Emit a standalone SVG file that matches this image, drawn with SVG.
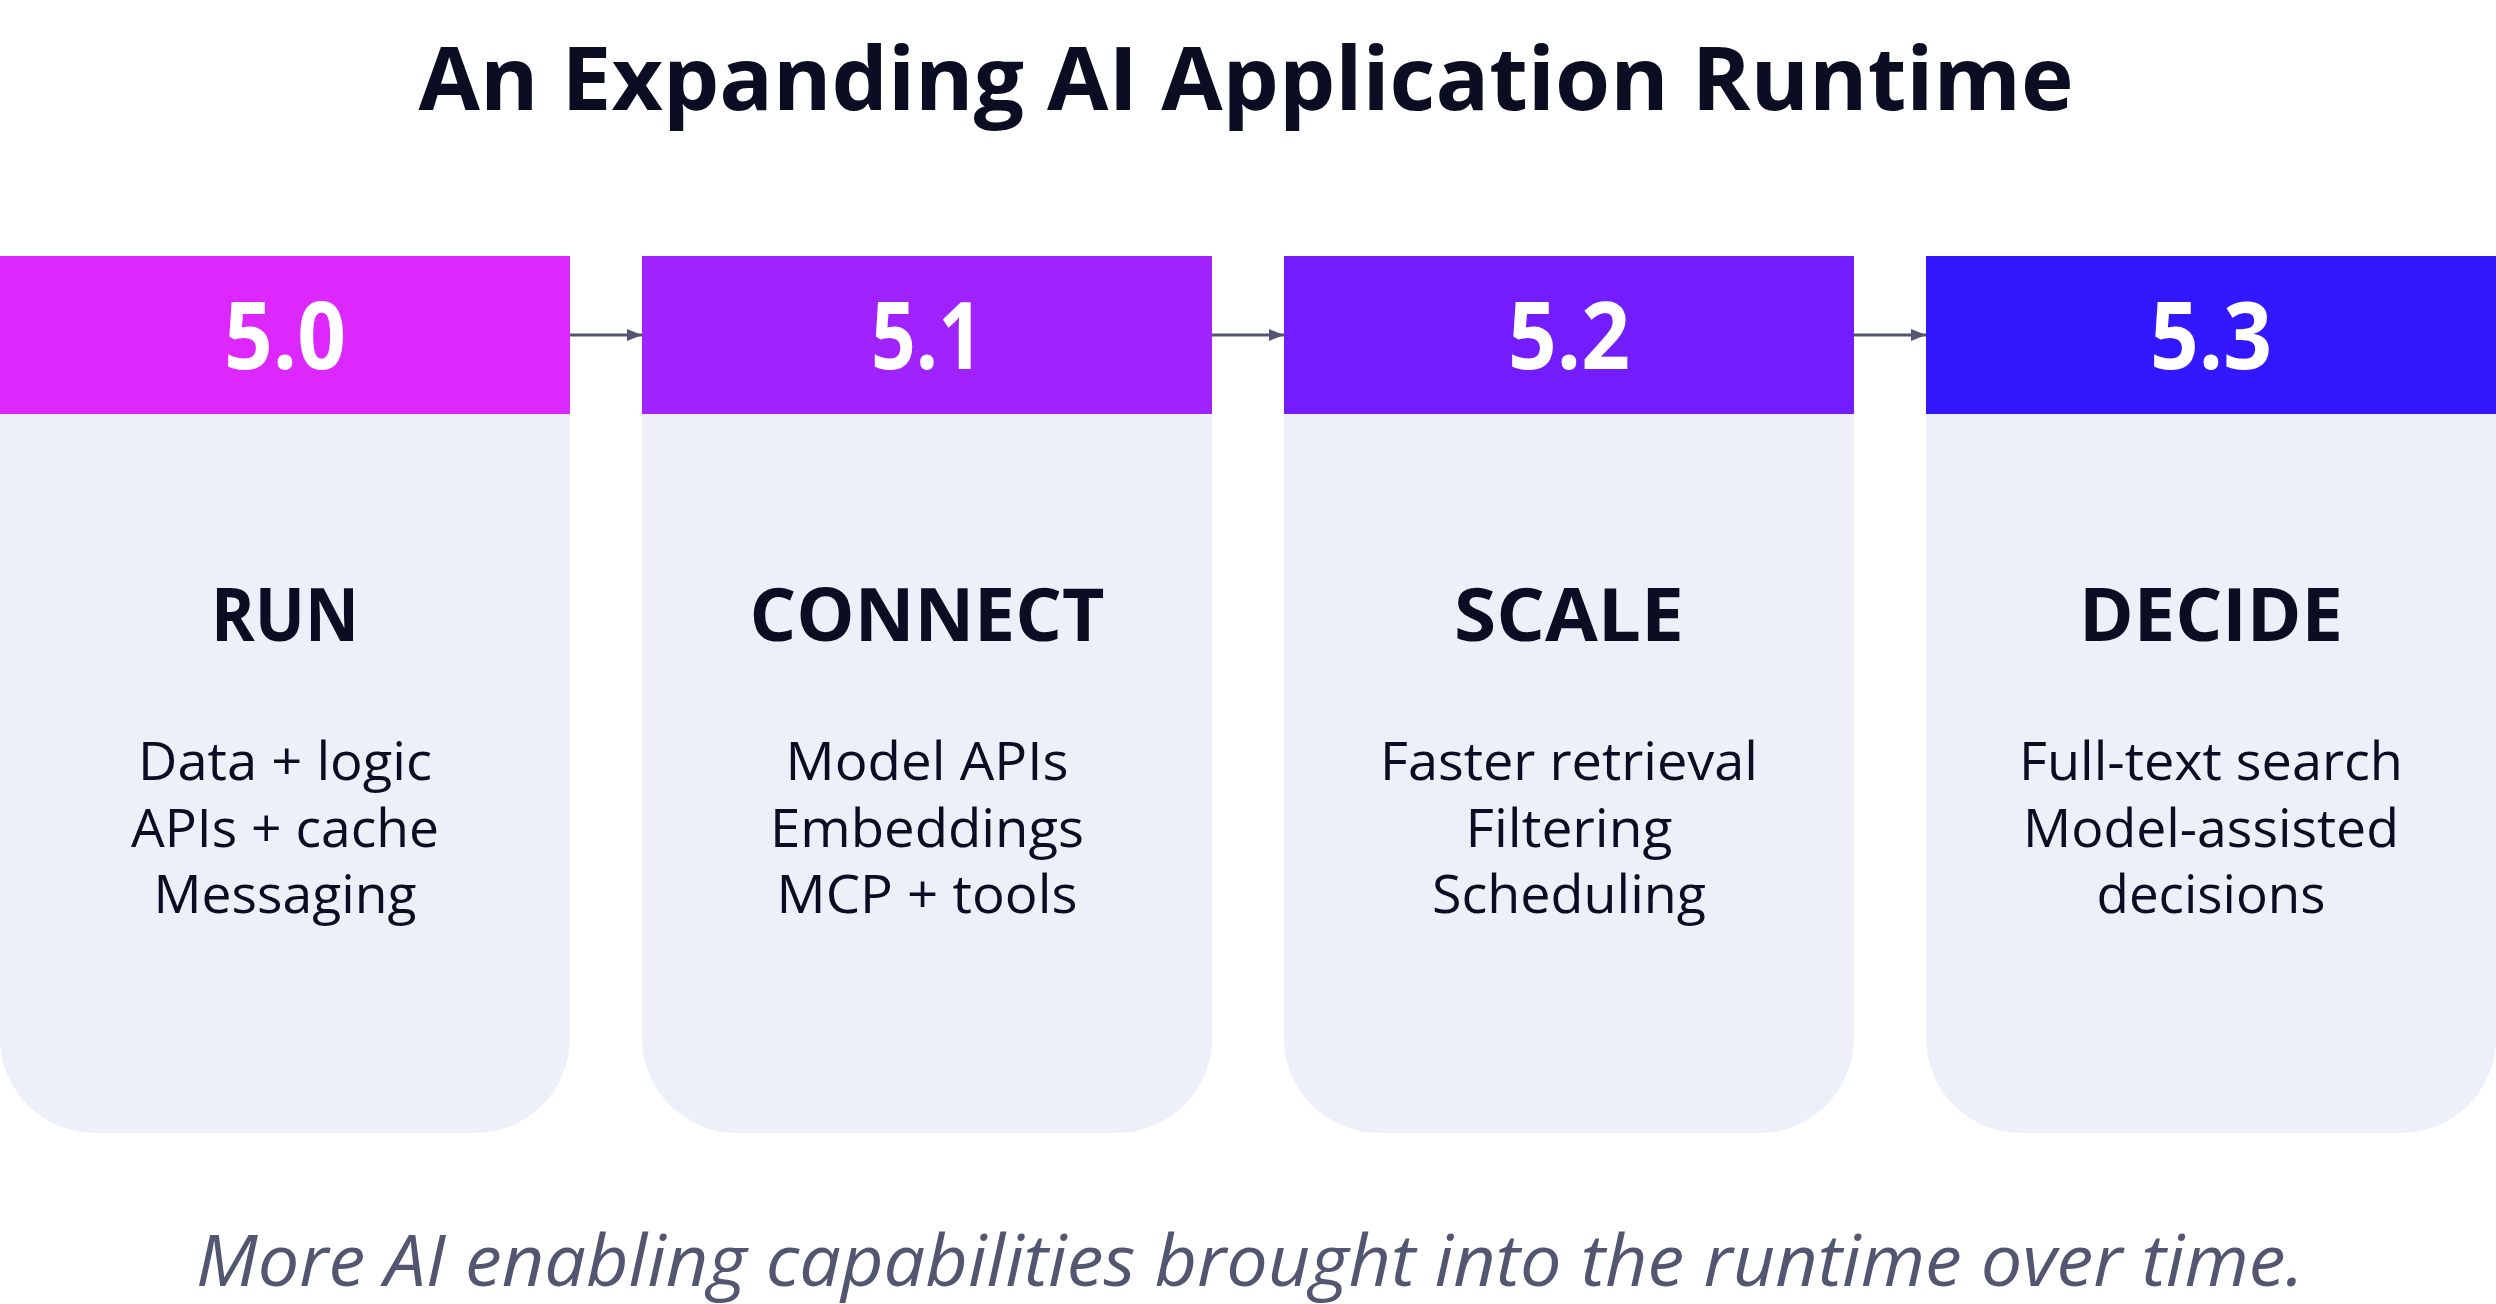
<svg xmlns="http://www.w3.org/2000/svg" width="2496" height="1304" viewBox="0 0 2496 1304">
  <defs>
    <style>
      .card { fill: #EDF0F9; }
      .ver { font-family: "Open Sans", "Noto Sans", sans-serif; font-weight: 700; font-size: 93px; fill: #FFFFFF; text-anchor: middle; }
      .head { font-family: "Open Sans", "Noto Sans", sans-serif; font-weight: 700; font-size: 73px; fill: #0B0D22; text-anchor: middle; }
      .body { font-family: "Open Sans", "Noto Sans", sans-serif; font-weight: 400; font-size: 53px; fill: #0B0D22; text-anchor: middle; }
      .title { font-family: "Open Sans", "Noto Sans", sans-serif; font-weight: 700; font-size: 88px; fill: #0B0D22; text-anchor: middle; }
      .foot { font-family: "Open Sans", "Noto Sans", sans-serif; font-style: italic; font-weight: 400; font-size: 72px; fill: #525670; text-anchor: middle; }
      .conn { stroke: #525670; stroke-width: 2.8; fill: none; }
    </style>
    <marker id="arrow" viewBox="0 0 15 12" refX="15" refY="6" markerWidth="15" markerHeight="12" markerUnits="userSpaceOnUse" orient="auto">
      <path d="M0,0 L15,6 L0,12 Z" fill="#525670"/>
    </marker>
  </defs>
  <rect x="0" y="0" width="2496" height="1304" fill="#FFFFFF"/>

  <text class="title" x="1246" y="110" textLength="1655" lengthAdjust="spacingAndGlyphs">An Expanding AI Application Runtime</text>

  <g id="node-5-0">
    <path class="card" d="M0,414 H570 V1038 A95,95 0 0 1 475,1133 H95 A95,95 0 0 1 0,1038 Z"/>
    <rect x="0" y="256" width="570" height="158" fill="#DC27FF"/>
    <text class="ver" x="285" y="369" textLength="122" lengthAdjust="spacingAndGlyphs">5.0</text>
    <text class="head" x="285" y="641" textLength="148" lengthAdjust="spacingAndGlyphs">RUN</text>
    <text class="body" x="285" y="780" textLength="294" lengthAdjust="spacingAndGlyphs">Data + logic</text>
    <text class="body" x="285" y="847" textLength="308" lengthAdjust="spacingAndGlyphs">APIs + cache</text>
    <text class="body" x="285" y="913" textLength="263" lengthAdjust="spacingAndGlyphs">Messaging</text>
  </g>

  <g id="node-5-1">
    <path class="card" d="M642,414 H1212 V1038 A95,95 0 0 1 1117,1133 H737 A95,95 0 0 1 642,1038 Z"/>
    <rect x="642" y="256" width="570" height="158" fill="#9F22FF"/>
    <text class="ver" x="927" y="369" textLength="112" lengthAdjust="spacingAndGlyphs">5.1</text>
    <text class="head" x="927" y="641" textLength="355" lengthAdjust="spacingAndGlyphs">CONNECT</text>
    <text class="body" x="927" y="780" textLength="283" lengthAdjust="spacingAndGlyphs">Model APIs</text>
    <text class="body" x="927" y="847" textLength="314" lengthAdjust="spacingAndGlyphs">Embeddings</text>
    <text class="body" x="927" y="913" textLength="301" lengthAdjust="spacingAndGlyphs">MCP + tools</text>
  </g>

  <g id="node-5-2">
    <path class="card" d="M1284,414 H1854 V1038 A95,95 0 0 1 1759,1133 H1379 A95,95 0 0 1 1284,1038 Z"/>
    <rect x="1284" y="256" width="570" height="158" fill="#731DFF"/>
    <text class="ver" x="1569" y="369" textLength="122" lengthAdjust="spacingAndGlyphs">5.2</text>
    <text class="head" x="1569" y="641" textLength="230" lengthAdjust="spacingAndGlyphs">SCALE</text>
    <text class="body" x="1569" y="780" textLength="378" lengthAdjust="spacingAndGlyphs">Faster retrieval</text>
    <text class="body" x="1569" y="847" textLength="207" lengthAdjust="spacingAndGlyphs">Filtering</text>
    <text class="body" x="1569" y="913" textLength="274" lengthAdjust="spacingAndGlyphs">Scheduling</text>
  </g>

  <g id="node-5-3">
    <path class="card" d="M1926,414 H2496 V1038 A95,95 0 0 1 2401,1133 H2021 A95,95 0 0 1 1926,1038 Z"/>
    <rect x="1926" y="256" width="570" height="158" fill="#3318FF"/>
    <text class="ver" x="2211" y="369" textLength="122" lengthAdjust="spacingAndGlyphs">5.3</text>
    <text class="head" x="2211" y="641" textLength="264" lengthAdjust="spacingAndGlyphs">DECIDE</text>
    <text class="body" x="2211" y="780" textLength="384" lengthAdjust="spacingAndGlyphs">Full-text search</text>
    <text class="body" x="2211" y="847" textLength="376" lengthAdjust="spacingAndGlyphs">Model-assisted</text>
    <text class="body" x="2211" y="913" textLength="229" lengthAdjust="spacingAndGlyphs">decisions</text>
  </g>

  <g id="connectors">
    <line class="conn" x1="570" y1="335" x2="642" y2="335" marker-end="url(#arrow)"/>
    <line class="conn" x1="1212" y1="335" x2="1284" y2="335" marker-end="url(#arrow)"/>
    <line class="conn" x1="1854" y1="335" x2="1926" y2="335" marker-end="url(#arrow)"/>
  </g>

  <text class="foot" x="1250" y="1286" textLength="2108" lengthAdjust="spacingAndGlyphs">More AI enabling capabilities brought into the runtime over time.</text>
</svg>
